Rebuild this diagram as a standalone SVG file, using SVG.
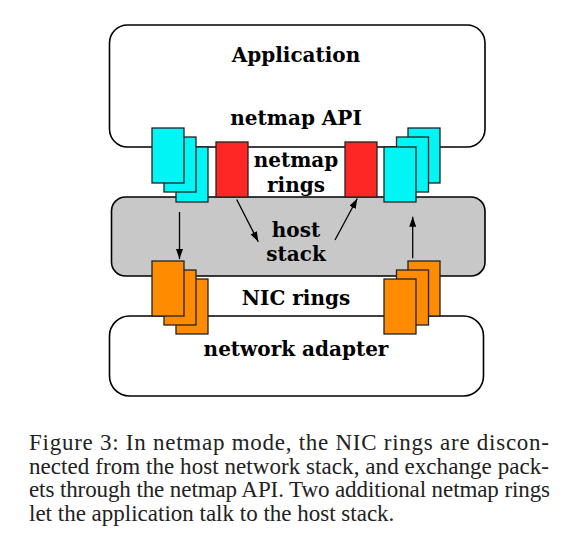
<svg xmlns="http://www.w3.org/2000/svg" width="574" height="552" viewBox="0 0 574 552">
<style>
.box{stroke:#000;stroke-width:1.6;}
.ring{stroke:#222;stroke-width:1.3;}
.cy{fill:#00f5f5;}
.rd{fill:#ff2626;}
.or{fill:#ff8c00;}
.lbl{font-family:"DejaVu Serif",serif;font-weight:bold;font-size:20px;fill:#000;text-anchor:middle;}
.cap{font-family:"Liberation Serif","Times New Roman",serif;font-size:23px;fill:#222;}
.arr{stroke:#000;stroke-width:1.3;fill:none;marker-end:url(#ah);}
</style>
<defs>
<marker id="ah" markerUnits="userSpaceOnUse" markerWidth="11" markerHeight="8" refX="10" refY="3.5" orient="auto">
<path d="M0,0 L10,3.5 L0,7 z" fill="#000"/>
</marker>
</defs>
<rect width="574" height="552" fill="#fff"/>
<g id="application">
<rect class="box" x="109.5" y="25" width="375.5" height="122" rx="18" fill="#fff"/>
<text class="lbl" x="296" y="62">Application</text>
<text class="lbl" x="296" y="125">netmap API</text>
</g>
<g id="host-stack">
<rect class="box" x="111.5" y="197" width="373.5" height="79" rx="14" fill="#c8c8c8"/>
<text class="lbl" x="296" y="237">host</text>
<text class="lbl" x="296" y="261">stack</text>
</g>
<g id="network-adapter">
<rect class="box" x="109.5" y="316" width="374" height="80" rx="20" fill="#fff"/>
<text class="lbl" x="296" y="356">network adapter</text>
</g>
<g id="netmap-rings-label">
<text class="lbl" x="296" y="167">netmap</text>
<text class="lbl" x="296" y="192">rings</text>
</g>
<g id="nic-rings-label">
<text class="lbl" x="296" y="305">NIC rings</text>
</g>
<g id="left-netmap-rings">
<rect class="ring cy" x="176" y="147" width="32" height="55"/>
<rect class="ring cy" x="164" y="137" width="32" height="55"/>
<rect class="ring cy" x="152" y="128" width="32" height="55"/>
</g>
<g id="host-ring-left">
<rect class="ring rd" x="216" y="142" width="32" height="55"/>
</g>
<g id="host-ring-right">
<rect class="ring rd" x="345" y="142" width="32" height="55"/>
</g>
<g id="right-netmap-rings">
<rect class="ring cy" x="408" y="128" width="32" height="55"/>
<rect class="ring cy" x="396.5" y="137" width="32" height="55"/>
<rect class="ring cy" x="384" y="147" width="32" height="55"/>
</g>
<g id="left-nic-rings">
<rect class="ring or" x="176" y="279" width="32" height="55"/>
<rect class="ring or" x="164" y="270" width="32" height="55"/>
<rect class="ring or" x="152" y="261" width="32" height="55"/>
</g>
<g id="right-nic-rings">
<rect class="ring or" x="408" y="261" width="32" height="55"/>
<rect class="ring or" x="396.5" y="270" width="32" height="55"/>
<rect class="ring or" x="384" y="279" width="32" height="55"/>
</g>
<g id="connectors">
<line class="arr" x1="179.5" y1="212" x2="179.5" y2="259"/>
<line class="arr" x1="236.7" y1="199.5" x2="258.3" y2="241.7"/>
<line class="arr" x1="335" y1="240" x2="357.3" y2="198.5"/>
<line class="arr" x1="412.7" y1="258.3" x2="412.7" y2="216.7"/>
</g>
<g id="caption">
<text class="cap" x="29" y="450" textLength="520" lengthAdjust="spacing">Figure 3:  In netmap mode, the NIC rings are discon-</text>
<text class="cap" x="29" y="473.5" textLength="520" lengthAdjust="spacing">nected from the host network stack, and exchange pack-</text>
<text class="cap" x="29" y="497" textLength="521" lengthAdjust="spacing">ets through the netmap API. Two additional netmap rings</text>
<text class="cap" x="29" y="520.5">let the application talk to the host stack.</text>
</g>
</svg>
